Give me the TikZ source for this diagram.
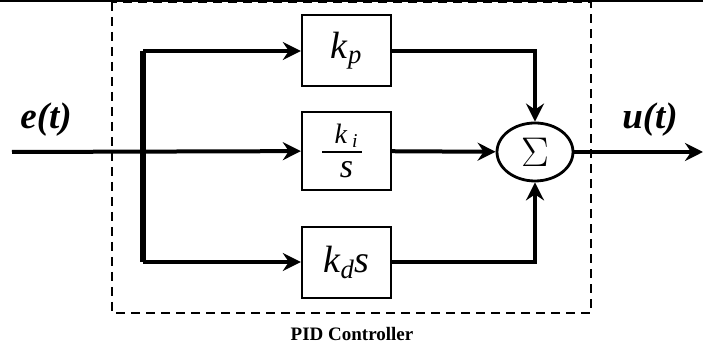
\documentclass[tikz,border=0pt]{standalone}
\usepackage{fontspec}
\setmainfont{Liberation Serif}
\usetikzlibrary{shapes.geometric,arrows.meta}
\tikzset{
  nd_blk/.style={
    rectangle, draw=black, line width=1.2pt,
    minimum width=44.5pt, minimum height=35.5pt,
    inner sep=0pt, font=\fontsize{19}{21}\selectfont},
  nd_frc/.style={inner sep=0pt, font=\fontsize{14}{15}\selectfont},
  nd_sum/.style={
    ellipse, draw=black, line width=1.4pt,
    minimum width=38pt, minimum height=29pt,
    inner sep=0pt, font=\fontsize{21}{23}\selectfont},
  nd_sig/.style={font=\fontsize{18.5}{20}\selectfont\bfseries\itshape},
  arr/.style={-{Stealth[length=9pt,width=9pt,inset=3pt]},line width=2pt},
  lbl/.style={font=\fontsize{9.5}{11}\selectfont\bfseries},
}
\newcommand{\kk}[1]{\textit{k}\textsubscript{\textit{#1}}}
\begin{document}
\begin{tikzpicture}[x=0.5pt,y=-0.5pt]
\useasboundingbox (0,0) rectangle (703,346);

\def\xB{346.5}\def\xS{535}

%% frame
\draw[line width=1.5pt] (0,1) -- (703,1);
\draw[line width=1.25pt, dash pattern=on 4.5pt off 3pt]
  (112,2) rectangle (591,313);
\node[lbl] at (352,334) (T){PID Controller};

%% blocks
\node[nd_blk] at (\xB,50.5)  (P){\kk{p}};
\node[nd_blk, minimum height=39pt] at (\xB,151) (I){};
\node[nd_frc] at (\xB,136) (Ik){\textit{k}\,\textsubscript{\textit{i}}};
\node[nd_frc, font=\fontsize{17}{18}\selectfont] at (\xB,170) (Is){\textit{s}};
\draw[line width=0.6pt] (322,152) -- (362,152);
\node[nd_blk] at (\xB,262.5) (D){\kk{d}\textit{s}};
\node[nd_sum] at (\xS,152)   (S){$\Sigma$};

%% signals
\coordinate (in)  at (12,152);
\coordinate (out) at (703,152);
\coordinate (bt)  at (143,51);
\coordinate (bb)  at (143,262);
\node[nd_sig] at (46,120)  (E){e(t)};
\node[nd_sig] at (650,120) (U){u(t)};

\draw[arr] (in) -- (I);
\draw[line width=2.8pt] (bt) -- (bb);
\draw[arr] (bt) -- (P.west |- bt);
\draw[arr] (bb) -- (D.west |- bb);

\draw[arr] (P.east |- bt) -| (S.north);
\draw[arr] (I) -- (S);
\draw[arr] (D.east |- bb) -| (S.south);
\draw[arr] (S) -- (out);

\end{tikzpicture}
\end{document}
